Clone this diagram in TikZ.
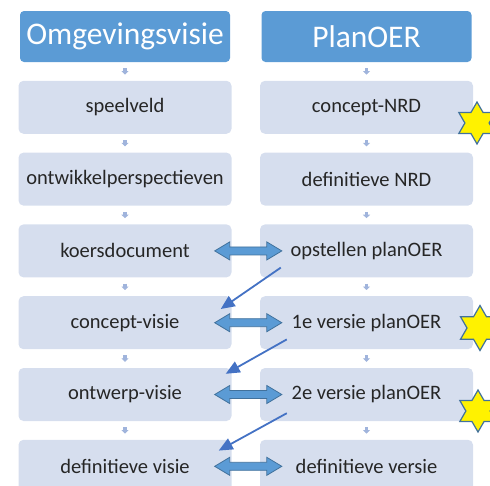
\documentclass[tikz,border=0pt]{standalone}
\usepackage{fontspec}
\setmainfont{Carlito}
\usetikzlibrary{positioning,calc,shapes.geometric,arrows.meta}

\definecolor{kopblauw}{RGB}{91,155,213}
\definecolor{vakblauw}{RGB}{214,222,238}
\definecolor{pijlrand}{RGB}{65,113,156}
\definecolor{lijnblauw}{RGB}{68,114,196}
\definecolor{stapblauw}{RGB}{160,180,220}

\tikzset{
  kop/.style={fill=kopblauw, rounded corners=4pt, minimum width=210pt, minimum height=51pt,
    text=white, font=\fontsize{31.5}{31.5}\selectfont},
  vak/.style={fill=vakblauw, rounded corners=5pt, minimum width=213pt, minimum height=53pt,
    text=black!85, font=\fontsize{20.5}{20.5}\selectfont},
  stap/.style={draw=stapblauw, line width=3.5pt, -{Triangle[width=7pt,length=3.5pt]}},
  schuin/.style={draw=lijnblauw, line width=1.8pt, -{Triangle[length=14pt,width=12pt]}},
  dubbel/.style={draw=pijlrand, fill=kopblauw, line width=0.8pt,
    to path={let \p1=(\tikztostart), \p2=(\tikztotarget) in
      (\x1,\y1) -- (\x1+15pt,\y1+9pt) -- (\x1+15pt,\y1+4pt) -- (\x2-15pt,\y1+4pt)
      -- (\x2-15pt,\y1+9pt) -- (\x2,\y1) -- (\x2-15pt,\y1-9pt) -- (\x2-15pt,\y1-4pt)
      -- (\x1+15pt,\y1-4pt) -- (\x1+15pt,\y1-9pt) -- cycle}},
  ster/.style={star, star points=6, star point ratio=1.732, fill=yellow, draw=pijlrand,
    line width=1.2pt, minimum size=42pt, inner sep=0pt}
}

\begin{document}
\begin{tikzpicture}[x=1pt,y=1pt,node distance=18.4pt]
    \useasboundingbox (0,0) rectangle (490,-485);
    % kolom omgevingsvisie
    \node[kop] (k0) at (125,-36.5) {Omgevingsvisie};
    \node[vak, below=of k0] (k1) {speelveld};
    \node[vak, below=of k1] (k2) {ontwikkelperspectieven};
    \node[vak, below=of k2] (k3) {koersdocument};
    \node[vak, below=of k3] (k4) {concept-visie};
    \node[vak, below=of k4] (k5) {ontwerp-visie};
    \node[vak, below=of k5] (k6) {definitieve visie};
    % kolom planOER
    \node[kop] (p0) at (366.5,-36.5) {PlanOER};
    \node[vak, below=of p0] (p1) {concept-NRD};
    \node[vak, below=of p1] (p2) {definitieve NRD};
    \node[vak, below=of p2] (p3) {opstellen planOER};
    \node[vak, below=of p3] (p4) {1e versie planOER};
    \node[vak, below=of p4] (p5) {2e versie planOER};
    \node[vak, below=of p5] (p6) {definitieve versie};

    \foreach \i [count=\j from 0] in {1,...,6} {
      \draw[stap] ([yshift=-6pt]k\j.south) -- ([yshift=6pt]k\i.north);
      \draw[stap] ([yshift=-6pt]p\j.south) -- ([yshift=6pt]p\i.north);
    }

    \foreach \i in {3,...,6}
      \draw[dubbel] ([xshift=-17pt]k\i.east) to ([xshift=22pt]p\i.west);

    \draw[schuin] ([shift={(21pt,10pt)}]p3.south west) -- ([shift={(-11pt,-13pt)}]k4.north east);
    \draw[schuin] ([shift={(27pt,10pt)}]p4.south west) -- ([shift={(-6pt,-6pt)}]k5.north east);
    \draw[schuin] ([shift={(27pt,8pt)}]p5.south west) -- ([shift={(-13pt,-11pt)}]k6.north east);

    \node[ster] (s1) at (477,-123) {};
    \node[ster, minimum size=45pt] (s2) at (480,-328) {};
    \node[ster] (s3) at (478,-411) {};
\end{tikzpicture}
\end{document}
